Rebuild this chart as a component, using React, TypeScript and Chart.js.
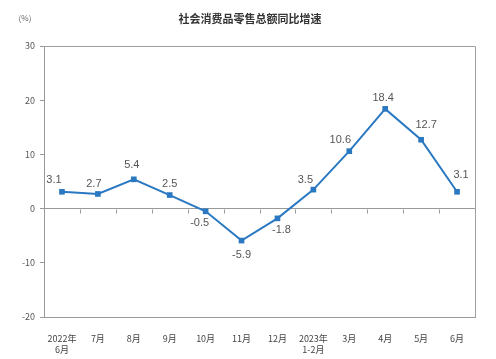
import React, { useEffect, useRef } from "react";
import { Chart, registerables } from "chart.js";

Chart.register(...registerables);

const categories: (string | string[])[] = [
  ["2022年", "6月"], "7月", "8月", "9月", "10月", "11月", "12月",
  ["2023年", "1-2月"], "3月", "4月", "5月", "6月",
];
const growth = [3.1, 2.7, 5.4, 2.5, -0.5, -5.9, -1.8, 3.5, 10.6, 18.4, 12.7, 3.1];
const yTicks = [30, 20, 10, 0, -10, -20];
const title = "社会消费品零售总额同比增速";
const unit = "(%)";

// label placement relative to point (style)
const labelOffsets: [number, number][] = [
  [-8, -12], [-4, -10], [-2, -14], [0, -11], [-6, 12], [0, 14], [4, 12],
  [-8, -10], [-9, -11], [-2, -11], [5, -15], [4, -17],
];

const FONT = "'Noto Sans CJK SC', 'DejaVu Sans', sans-serif";
const LFONT = "'Liberation Sans', Arial, sans-serif";

const decorPlugin = {
  id: "decor",
  beforeDatasetsDraw(chart: any) {
    const { ctx, chartArea } = chart;
    const xs = chart.scales.x;
    const ys = chart.scales.y;
    ctx.save();
    ctx.strokeStyle = "#a0a0a0";
    ctx.lineWidth = 1;
    ctx.beginPath();
    ctx.moveTo(chartArea.left, chartArea.top + 0.5);
    ctx.lineTo(chartArea.right + 0.5, chartArea.top + 0.5);
    ctx.lineTo(chartArea.right + 0.5, chartArea.bottom);
    ctx.stroke();
    // category-axis ticks on the zero line
    const y0 = Math.round(ys.getPixelForValue(0)) + 0.5;
    const step = (chartArea.right - chartArea.left) / categories.length;
    ctx.strokeStyle = "#999";
    ctx.beginPath();
    for (let i = 1; i <= categories.length; i++) {
      const x = Math.round(chartArea.left + i * step) + 0.5;
      ctx.moveTo(x, y0);
      ctx.lineTo(x, y0 + 4);
    }
    ctx.stroke();
    ctx.restore();
  },
  afterDraw(chart: any) {
    const { ctx } = chart;
    ctx.save();
    ctx.fillStyle = "#333";
    ctx.font = `bold 11px ${FONT}`;
    ctx.textAlign = "center";
    ctx.textBaseline = "middle";
    ctx.fillText(title, 250, 19);
    ctx.font = `8px ${FONT}`;
    ctx.fillStyle = "#666";
    ctx.fillText(unit, 25, 18);
    const meta = chart.getDatasetMeta(0);
    ctx.font = `11px ${LFONT}`;
    ctx.fillStyle = "#555";
    meta.data.forEach((pt: any, i: number) => {
      const [dx, dy] = labelOffsets[i];
      ctx.fillText(String(growth[i]), pt.x + dx, pt.y + dy);
    });
    ctx.restore();
  },
};

export default function App() {
  const ref = useRef<HTMLCanvasElement | null>(null);
  useEffect(() => {
    if (!ref.current) return;
    const chart = new Chart(ref.current, {
      type: "line",
      data: {
        labels: categories,
        datasets: [
          {
            data: growth,
            borderColor: "#2a78c2",
            backgroundColor: "#2a78c2",
            borderWidth: 2,
            pointStyle: "rect",
            pointRadius: 4,
            pointBorderWidth: 0,
            tension: 0,
          },
        ],
      },
      options: {
        animation: false,
        responsive: false,
        maintainAspectRatio: false,
        layout: { padding: { top: 46, right: 21, left: 0, bottom: 0 } },
        plugins: { legend: { display: false }, tooltip: { enabled: false }, title: { display: false } },
        scales: {
          x: {
            offset: true,
            grid: { display: false },
            border: { display: true, color: "#999" },
            ticks: {
              color: "#444",
              font: { family: FONT, size: 9 },
              padding: 8,
              maxRotation: 0,
              autoSkip: false,
            },
            afterFit(scale: any) { scale.height = 42; },
          },
          y: {
            min: -20,
            max: 30,
            afterBuildTicks(scale: any) { scale.ticks = yTicks.map((v) => ({ value: v })); },
            grid: {
              color: (c: any) => (c.tick && c.tick.value === 0 ? "#999" : "transparent"),
              tickColor: "#999",
              tickLength: 4,
            },
            border: { display: true, color: "#999" },
            ticks: { color: "#555", font: { family: FONT, size: 9 }, padding: 5 },
            afterFit(scale: any) { scale.width = 44; },
          },
        },
      },
      plugins: [decorPlugin],
    });
    return () => chart.destroy();
  }, []);
  return (
    <div style={{ position: "fixed", left: 0, top: 0, width: 496, height: 359, background: "#fff" }}>
      <canvas ref={ref} width={496} height={359} />
    </div>
  );
}
